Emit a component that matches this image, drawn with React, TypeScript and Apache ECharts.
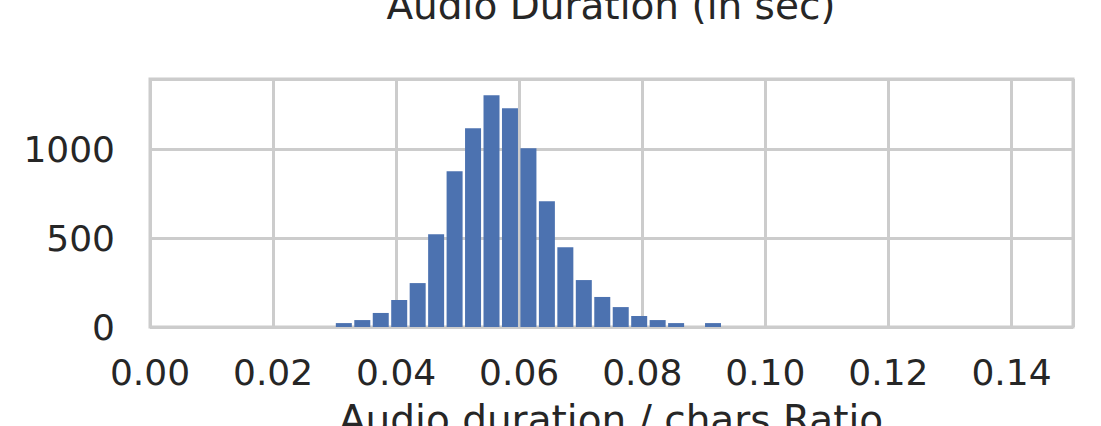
import React, { useEffect, useRef } from "react";
import * as echarts from "echarts";

// Histogram bins (left edges) and counts
const binLeftEdges = [
  0.03, 0.033, 0.036, 0.039, 0.042, 0.045, 0.048, 0.051, 0.054, 0.057, 0.06,
  0.063, 0.066, 0.069, 0.072, 0.075, 0.078, 0.081, 0.084, 0.087, 0.09,
];
const binCounts = [
  22, 39, 79, 152, 247, 522, 876, 1118, 1303, 1230, 1006, 708, 449, 264, 169,
  112, 62, 39, 22, 0, 22,
];
const binWidth = 0.003;

const xTickLabels = ["0.00", "0.02", "0.04", "0.06", "0.08", "0.10", "0.12", "0.14"];
const yTickLabels = ["0", "500", "1000"];

const titleText = "Audio Duration (in sec)";
const xAxisTitle = "Audio duration / chars Ratio";

export default function App() {
  const ref = useRef<HTMLDivElement>(null);

  useEffect(() => {
    if (!ref.current) return;
    const chart = echarts.init(ref.current, undefined, { renderer: "svg" });
    const font = "DejaVu Sans";
    const textColor = "#262626";
    const gridColor = "#cccccc";

    const data = binLeftEdges.map((l, i) => [l + binWidth / 2, binCounts[i]]);

    chart.setOption({
      animation: false,
      backgroundColor: "#ffffff",
      grid: {
        left: 150,
        right: 28,
        top: 79,
        bottom: 99,
        show: true,
        borderColor: gridColor,
        borderWidth: 3,
        backgroundColor: "#ffffff",
      },
      xAxis: {
        type: "value",
        min: 0,
        max: 0.15,
        interval: 0.02,
        axisLine: { show: false },
        axisTick: { show: false },
        splitLine: { show: true, lineStyle: { color: gridColor, width: 3 } },
        axisLabel: {
          showMaxLabel: false,
          margin: 27,
          color: textColor,
          fontFamily: font,
          fontSize: 36,
          formatter: (v: number) => {
            const idx = Math.round(v / 0.02);
            if (Math.abs(idx * 0.02 - v) > 1e-9) return "";
            return xTickLabels[idx] ?? "";
          },
        },
      },
      yAxis: {
        type: "value",
        min: 0,
        max: 1395,
        interval: 500,
        axisLine: { show: false },
        axisTick: { show: false },
        splitLine: { show: true, lineStyle: { color: gridColor, width: 3 } },
        axisLabel: {
          showMaxLabel: false,
          margin: 35,
          color: textColor,
          fontFamily: font,
          fontSize: 36,
          formatter: (v: number) => {
            const idx = Math.round(v / 500);
            if (Math.abs(idx * 500 - v) > 1e-9) return "";
            return yTickLabels[idx] ?? "";
          },
        },
      },
      series: [
        {
          type: "bar",
          data,
          barWidth: 16,
          itemStyle: { color: "#4c72b0" },
        },
      ],
      graphic: [
        {
          type: "text",
          x: 611,
          y: 5,
          style: {
            text: titleText,
            fontFamily: font,
            fontSize: 39,
            fill: textColor,
            textAlign: "center",
            textVerticalAlign: "middle",
          },
        },
        {
          type: "text",
          x: 611,
          y: 419,
          style: {
            text: xAxisTitle,
            fontFamily: font,
            fontSize: 39,
            fill: textColor,
            textAlign: "center",
            textVerticalAlign: "middle",
          },
        },
      ],
    });

    return () => chart.dispose();
  }, []);

  return (
    <div
      ref={ref}
      style={{
        position: "fixed",
        left: 0,
        top: 0,
        width: 1101,
        height: 426,
        background: "#ffffff",
      }}
    />
  );
}
